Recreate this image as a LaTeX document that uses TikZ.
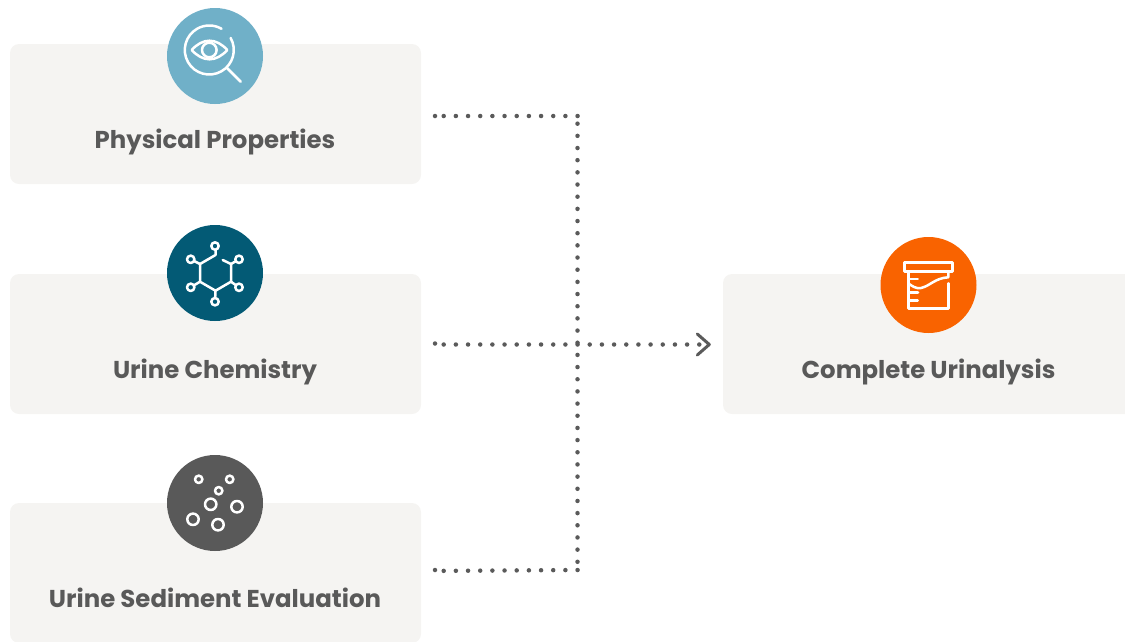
\documentclass[tikz,border=0pt]{standalone}
\usepackage{fontspec}
\setmainfont{Poppins}
\usetikzlibrary{arrows.meta}
\definecolor{boxgray}{HTML}{F5F4F2}
\definecolor{textgray}{HTML}{595959}
\definecolor{dotgray}{HTML}{5A5A5A}
\definecolor{physblue}{HTML}{70B0C8}
\definecolor{chemteal}{HTML}{035A75}
\definecolor{urineorange}{HTML}{F96300}
\tikzset{
	panel/.style={fill=boxgray, rounded corners=9pt, minimum height=140pt, inner sep=0pt},
	badge/.style={circle, minimum size=96pt, inner sep=0pt},
	label/.style={text=textgray, anchor=base, font=\bfseries\fontsize{24.4pt}{27pt}\selectfont, inner sep=0pt},
	dotline/.style={draw=dotgray, line width=4.5pt, line cap=round, dash pattern=on 0pt off 12.17pt},
	startdot/.style={circle, fill=dotgray, minimum size=4.5pt, inner sep=0pt},
	icon/.style={draw=white, line width=2.5pt, line cap=round, line join=round}
}
\begin{document}
\begin{tikzpicture}[x=1pt, y=-1pt]
	\useasboundingbox (0,0) rectangle (1125,641);
	\clip (0,0) rectangle (1125,641);
	% panels
	\node [panel, minimum width=411pt] (boxphys) at (215.5,114) {};
	\node [panel, minimum width=411pt] (boxchem) at (215.5,344) {};
	\node [panel, minimum width=411pt] (boxsed) at (215.5,573) {};
	\node [panel, minimum width=420pt] (boxfull) at (933,344) {};
	% badges
	\node [badge, fill=physblue] (icnphys) at (215,56) {};
	\node [badge, fill=chemteal] (icnchem) at (215,273) {};
	\node [badge, fill=textgray] (icnsed) at (215,503) {};
	\node [badge, fill=urineorange] (icnfull) at (928.5,285) {};
	% labels
	\node [label] (lblphys) at (215,148.5) {Physical Properties};
	\node [label] (lblchem) at (215,378.5) {Urine Chemistry};
	\node [label] (lblsed) at (215,607.5) {Urine Sediment Evaluation};
	\node [label] (lblfull) at (928.5,378.5) {Complete Urinalysis};
	% dotted connectors
	\coordinate (cornertop) at (578.5,116);
	\coordinate (cornerbot) at (578.5,570);
	\coordinate (railtop) at (577.5,116);
	\coordinate (railbot) at (577.5,571);
	\draw [dotline, shorten <=22.5pt] ([yshift=-2pt]boxphys.east) -- (cornertop);
	\draw [dotline, shorten <=22.5pt] ([yshift=2pt]boxsed.east) -- (cornerbot);
	\draw [dotline, dash phase=4.5pt] (railtop) -- (railbot);
	\draw [dotline, shorten <=22.5pt, shorten >=12pt, -{Straight Barb[length=12pt, width=21pt, line width=3pt, round]}] ([yshift=-0.5pt]boxchem.east) -- ([yshift=-0.5pt]boxfull.west);
	\node [startdot] (startphys) at (435,116) {};
	\node [startdot] (startchem) at (435,343.5) {};
	\node [startdot] (startsed) at (435,570) {};
	% magnifier and eye
	\draw [icon] (209.3,50) ++(29.5:24.5pt) arc [start angle=29.5, end angle=-300, radius=24.5pt];
	\draw [icon] (227.3,68.3) -- (240.7,81.7);
	\draw [icon] (191.7,50) .. controls (203,37.6) and (216,37.6) .. (227.3,50) .. controls (216,62.4) and (203,62.4) .. cycle;
	\draw [icon] (209.3,50) circle [radius=7.3pt];
	% molecule
	\draw [icon] (215.5,246) -- (215.5,255) -- (200,264) -- (200,281.7) -- (215.5,290.7) -- (231,281.7) -- (231,264) -- (222.7,260);
	\draw [icon] (200,264) -- (190.7,259.3) (200,281.7) -- (190.7,287.3) (215.5,290.7) -- (215,301.7) (231,281.7) -- (239,287.3) (231,264) -- (239,259.3);
	\foreach \px/\py in {215/246, 190.7/259.3, 190.7/287.3, 215/301.7, 239/287.3, 239/259.3}
		\draw [icon, fill=chemteal] (\px,\py) circle [radius=3.7pt];
	% sediment
	\foreach \px/\py in {198.7/479.3, 229.7/479.3, 218.7/490.7}
		\draw [icon] (\px,\py) circle [radius=3.7pt];
	\foreach \px/\py in {210.7/504.3, 237/506.7, 193/519.3, 218/524.7}
		\draw [icon] (\px,\py) circle [radius=5.7pt];
	% specimen cup
	\draw [icon, line cap=butt] (904.3,262.3) rectangle (952.7,271.7);
	\draw [icon] (908.3,271.7) -- (908.3,308.3) -- (948.3,308.3) -- (948.3,283.3);
	\draw [icon] (948.3,271.7) -- (948.3,277.3) .. controls (935,278) and (930,286) .. (921,288) .. controls (916,289) and (912,286) .. (908.3,283.3);
	\draw [icon] (908.3,279) -- (917.7,279) (908.3,292.3) -- (918,292.3) (908.3,300.7) -- (917.7,300.7);
\end{tikzpicture}
\end{document}
